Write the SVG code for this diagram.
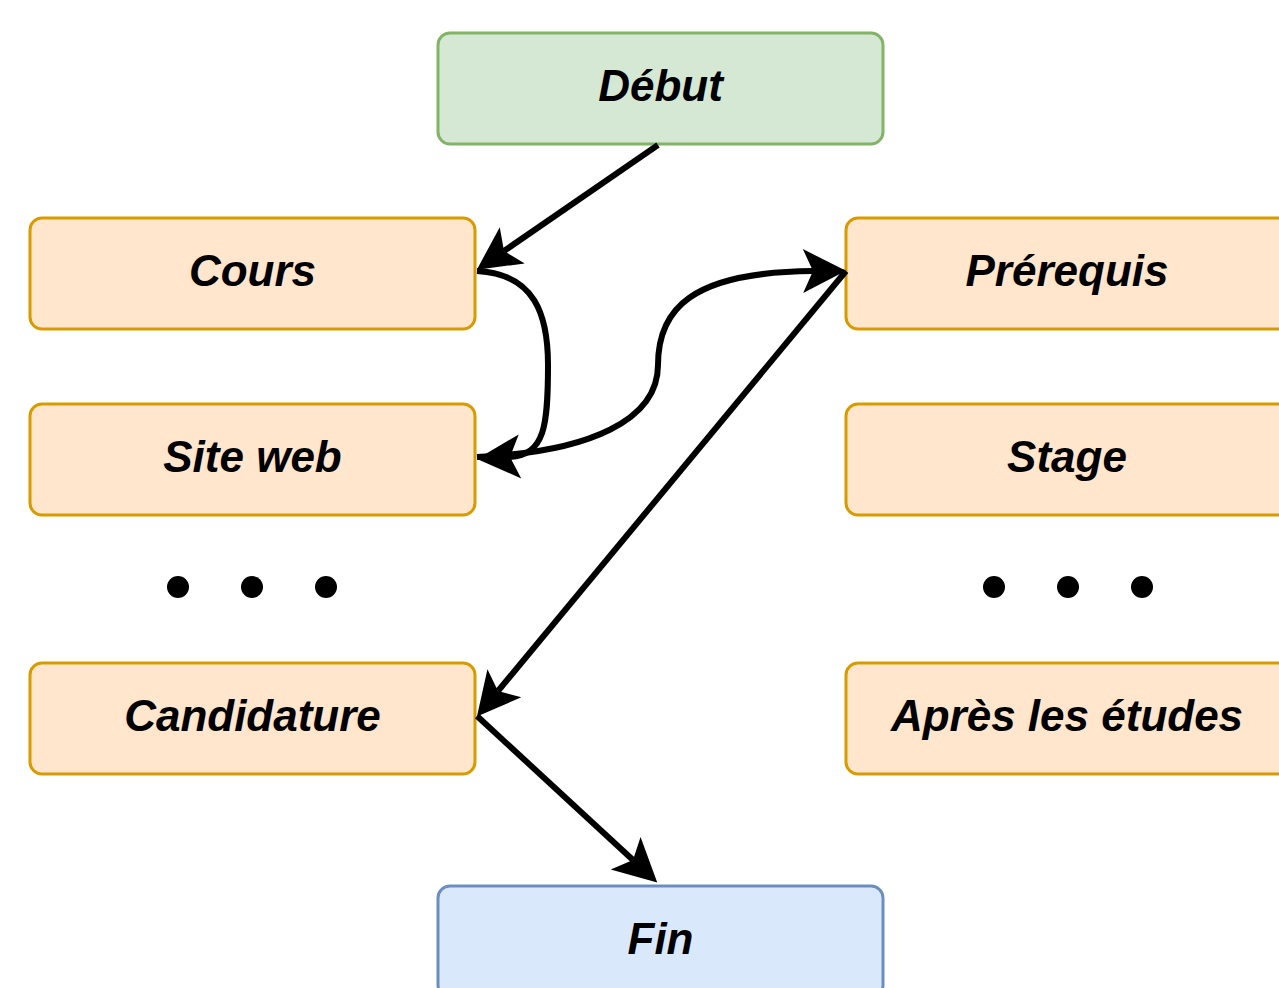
<svg xmlns="http://www.w3.org/2000/svg" width="1279" height="988" viewBox="0 0 1279 988">
<style>
.box{stroke-width:3}
.orange{fill:#ffe6cc;stroke:#d79b00}
.green{fill:#d5e8d4;stroke:#82b366}
.blue{fill:#dae8fc;stroke:#6c8ebf}
.lbl{font-family:"Liberation Sans",Arial,sans-serif;font-size:44px;font-weight:bold;font-style:italic;fill:#000;text-anchor:middle}
.edge{fill:none;stroke:#000;stroke-width:6}
.dot{fill:#000}
</style>
<defs>
<marker id="arr" markerUnits="userSpaceOnUse" viewBox="-12 -24 48 48" markerWidth="48" markerHeight="48" refX="0" refY="0" orient="auto" overflow="visible">
<path d="M33,0 L-10,-22 L0,0 L-10,22 Z" fill="#000"/>
</marker>
</defs>
<rect width="1279" height="988" fill="#fff"/>
<g id="debut"><rect class="box green" x="438" y="33" width="445" height="111" rx="12"/><text class="lbl" x="660.5" y="101">Début</text></g>
<g id="cours"><rect class="box orange" x="30" y="218" width="445" height="111" rx="12"/><text class="lbl" x="252.5" y="286">Cours</text></g>
<g id="siteweb"><rect class="box orange" x="30" y="404" width="445" height="111" rx="12"/><text class="lbl" x="252.5" y="472">Site web</text></g>
<g id="candidature"><rect class="box orange" x="30" y="663" width="445" height="111" rx="12"/><text class="lbl" x="252.5" y="731">Candidature</text></g>
<g id="prerequis"><rect class="box orange" x="846" y="218" width="445" height="111" rx="12"/><text class="lbl" x="1067" y="286">Prérequis</text></g>
<g id="stage"><rect class="box orange" x="846" y="404" width="445" height="111" rx="12"/><text class="lbl" x="1067" y="472">Stage</text></g>
<g id="apres"><rect class="box orange" x="846" y="663" width="445" height="111" rx="12"/><text class="lbl" x="1067" y="731">Après les études</text></g>
<g id="fin"><rect class="box blue" x="438" y="886" width="445" height="111" rx="12"/><text class="lbl" x="660.5" y="954">Fin</text></g>
<g id="dots-left"><circle class="dot" cx="178" cy="587" r="11"/><circle class="dot" cx="252" cy="587" r="11"/><circle class="dot" cx="326" cy="587" r="11"/></g>
<g id="dots-right"><circle class="dot" cx="994" cy="587" r="11"/><circle class="dot" cx="1068" cy="587" r="11"/><circle class="dot" cx="1142" cy="587" r="11"/></g>
<g id="connectors">
<path class="edge" d="M658,145 L504,251" marker-end="url(#arr)"/>
<path class="edge" d="M477,271 C535,274 548,315 548,365 C548,425 545,455 510,457" marker-end="url(#arr)"/>
<path class="edge" d="M477,457 C590,452 658,420 658,365 C658,310 690,272 813,271" marker-end="url(#arr)"/>
<path class="edge" d="M846,271 L498,691" marker-end="url(#arr)"/>
<path class="edge" d="M477,716 L633,860" marker-end="url(#arr)"/>
</g>
</svg>
